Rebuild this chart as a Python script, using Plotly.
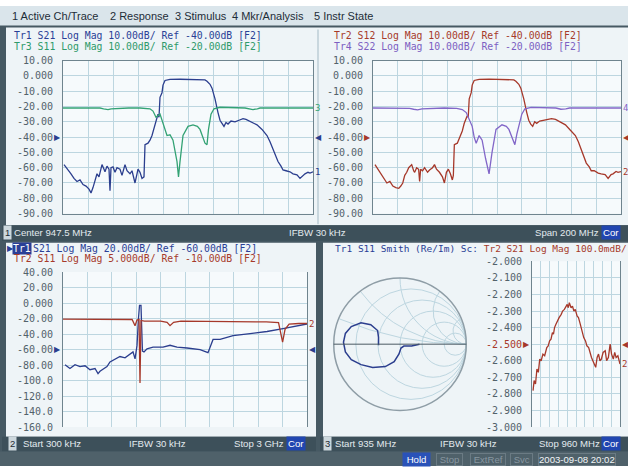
import numpy as np
import plotly.graph_objects as go

W, H = 628, 472
def X(px): return px / W
def Y(py): return 1 - py / H

# ---------------- data ----------------
# Channel 1 : Center 947.5 MHz, Span 200 MHz (MHz / dB)
ch1_start, ch1_stop = 847.5, 1047.5
ch1_tr1_freq = [848.3, 849.9, 851.5, 853.9, 856.3, 858.7, 861.1, 863.5, 865.9, 868.3, 869.9, 871.5, 873.1,
                874.7, 876.3, 878.7, 880.3, 881.1, 882.7, 884.3, 885.1, 885.9, 887.5, 889.1, 890.7, 893.1,
                894.7, 897.1, 898.7, 901.1, 902.7, 905.1, 906.7, 907.5, 909.1, 910.7, 912.3, 913.1, 915.5,
                917.1, 918.7, 921.1, 922.7, 923.5, 924.3, 925.1, 926.7, 927.5, 929.1, 933.1, 941.1, 949.1,
                957.1, 961.1, 962.7, 965.1, 966.7, 969.1, 971.5, 973.1, 974.7, 976.3, 977.9, 979.5, 981.9,
                985.1, 988.3, 991.5, 993.9, 996.3, 999.5, 1002.7, 1006.7, 1010.7, 1013.1, 1015.5, 1017.9,
                1019.5, 1021.9, 1023.5, 1025.9, 1029.1, 1031.5, 1034.7, 1037.1, 1039.5, 1041.1, 1043.5,
                1045.1, 1047.5]
ch1_tr1_s21 = [-58, -60, -61.5, -64, -67, -69, -68, -71, -72, -74, -76.5, -73, -68,
               -64, -66, -58, -61, -62.7, -59, -61, -75, -60, -59.5, -63, -60, -61,
               -65, -58, -62, -64, -62, -70, -64, -61, -63, -67, -66, -45, -44,
               -42, -39, -32, -28, -25, -27, -14, -11, -6, -3, -2.3, -2.2, -2.2,
               -2.4, -2.6, -3.5, -5.5, -8, -15, -24, -29, -31, -33, -30.5, -31.5, -29.5,
               -30, -29, -28, -28.5, -29.5, -30.5, -32, -35, -39, -43, -48, -53,
               -56, -59, -61.5, -62, -62.7, -64, -64.7, -67, -65, -64, -63,
               -63.5, -62.7]
ch1_tr3_freq = [847.5, 870, 877.1, 880, 883.5, 886, 889.1, 900, 909.1, 917.1, 919.5, 921.9, 925.1, 927.5,
                930.7, 933.1, 935.5, 938.7, 939.9, 941.1, 943.5, 947.5, 951.5, 955, 957.1, 961.1, 962.7,
                963.9, 965.9, 968.3, 973.1, 993.1, 997, 999.5, 1003, 1005.1, 1047.5]
ch1_tr3_s11 = [-1, -1, -1, -1.5, -2, -1.5, -1.3, -1, -1, -1.5, -3, -7, -5, -11,
               -19, -18.5, -22, -36, -46, -36, -19, -13, -12, -13, -15, -24, -25,
               -15, -5, -1.5, -0.5, -1, -1.8, -2, -1.5, -1, -1]
ch1_tr2_freq = [849.1, 851.5, 853.9, 856.3, 858.7, 861.1, 863.5, 865.9, 868.3, 869.9, 871.5, 873.1, 874.7,
                876.3, 878.7, 880.3, 881.1, 882.7, 884.3, 885.1, 885.9, 887.5, 889.1, 891.5, 893.1, 895.5,
                897.1, 898.7, 901.1, 903.5, 905.1, 906.7, 908.3, 909.9, 911.5, 912.3, 913.1, 915.5, 917.1,
                919.5, 921.1, 923.5, 924.3, 925.1, 926.7, 927.5, 929.1, 933.1, 941.1, 949.1, 957.1, 961.1,
                962.7, 965.1, 966.7, 969.1, 971.5, 973.1, 974.7, 976.3, 977.9, 979.5, 981.9, 985.1, 988.3,
                991.5, 994.7, 997.1, 999.5, 1002.7, 1006.7, 1010.7, 1013.1, 1015.5, 1017.9, 1019.5, 1021.9,
                1023.5, 1025.9, 1029.1, 1031.5, 1034.7, 1037.1, 1039.5, 1041.1, 1043.5, 1045.1, 1047.5]
ch1_tr2_s12 = [-58, -61, -64, -67, -70, -69, -72, -73, -73.5, -72, -70, -65, -63,
               -60, -58, -62, -63, -60, -61, -69, -61, -62, -60, -63, -61.5, -60,
               -58, -61, -63, -66, -70, -63, -61, -64, -68, -65, -45, -44, -41,
               -36, -31, -26, -27, -15, -11, -6, -3, -2.3, -2.1, -2.2, -2.4, -2.6,
               -3.5, -5.5, -8, -15, -24, -29, -31.5, -33, -30, -31, -29.5, -29, -28.5,
               -28, -28.5, -29.5, -31, -32, -35.5, -39, -43, -48, -53, -57, -59.5,
               -62, -62, -63.5, -64, -64.5, -67, -64.5, -64, -62.5, -63, -62.5]
ch1_tr4_freq = [847.5, 870, 877, 880.3, 883.5, 887, 893, 905, 915, 919.5, 922.7, 925.1, 927.5, 929.1,
                930.7, 933.1, 935.5, 938.3, 941.1, 943.5, 946.7, 951.5, 955, 957.1, 961.1, 961.9, 963.5,
                965.1, 967.5, 970, 975, 995, 999, 1003, 1006, 1047.5]
ch1_tr4_s22 = [-1, -1, -1.2, -1.8, -2.2, -1.5, -1.2, -1, -1.2, -2, -4, -8, -13, -20,
               -24, -19, -22, -34, -44, -30, -15, -12, -13, -15, -24, -25, -18,
               -13, -5, -1.5, -0.6, -1, -1.8, -1.5, -1, -1]
ch1_ticks = [10, 0, -10, -20, -30, -40, -50, -60, -70, -80, -90]
ch1_ticktext = ["10.00", "0.000", "-10.00", "-20.00", "-30.00", "-40.00", "-50.00", "-60.00",
                "-70.00", "-80.00", "-90.00"]

# Channel 2 : Start 300 kHz, Stop 3 GHz (GHz / dB)
ch2_start, ch2_stop = 0.0003, 3.0
ch2_tr1_freq = [0.025, 0.086, 0.148, 0.209, 0.271, 0.332, 0.394, 0.431, 0.455, 0.480, 0.541, 0.578,
                0.640, 0.701, 0.763, 0.824, 0.861, 0.886, 0.910, 0.928, 0.941, 0.959, 0.971, 0.977,
                0.996, 1.033, 1.107, 1.230, 1.316, 1.402, 1.525, 1.685, 1.783, 1.808, 1.845, 1.931,
                2.091, 2.300, 2.508, 2.705, 2.914, 3.000]
ch2_tr1_s21 = [-79.5, -84.5, -79.5, -82, -81, -86, -84.5, -91, -88, -86, -82, -76,
               -72, -69, -70.7, -66, -63, -72, -55, -20, -3, -3, -30, -62,
               -63, -59, -57, -57, -54.5, -57, -58, -60, -64, -57, -47, -46.8,
               -42, -39.5, -36.7, -33, -28.5, -27]
ch2_tr2_freq = [0.0003, 0.3, 0.6, 0.85, 0.886, 0.91, 0.935, 0.947, 0.959, 1.0, 1.2, 1.28, 1.316,
                1.36, 1.45, 2.0, 2.5, 2.65, 2.70, 2.73, 2.78, 2.9, 3.0]
ch2_tr2_s11 = [-0.2, -0.2, -0.2, -0.3, -2.3, -0.5, -0.3, -20.8, -0.6, -0.8, -0.8, -1.2, -2.3,
               -1.2, -0.8, -0.9, -1.1, -1.3, -7.6, -3.5, -1.8, -1.6, -1.6]
ch2_ticks = [40, 20, 0, -20, -40, -60, -80, -100, -120, -140, -160]
ch2_ticktext = ["40.00", "20.00", "0.000", "-20.00", "-40.00", "-60.00", "-80.00", "-100.0",
                "-120.0", "-140.0", "-160.0"]

# Channel 3 : Start 935 MHz, Stop 960 MHz
ch3_start, ch3_stop = 935.0, 960.0
ch3_tr1_gamma_re = [-0.324, -0.324, -0.338, -0.441, -0.588, -0.735, -0.824, -0.853, -0.824, -0.735,
                    -0.588, -0.412, -0.221, -0.088, -0.015, 0.015, 0.059, 0.176, 0.294]
ch3_tr1_gamma_im = [-0.015, 0.103, 0.206, 0.294, 0.324, 0.265, 0.162, 0.029, -0.118, -0.235,
                    -0.309, -0.353, -0.338, -0.265, -0.147, -0.059, -0.029, -0.029, 0.0]
ch3_tr2_freq = [935.3, 935.6, 936.0, 936.4, 936.8, 937.2, 937.6, 938.1, 938.6, 939.2, 939.6, 940.0,
                940.4, 940.8, 941.1, 941.4, 941.8, 942.2, 942.7, 943.3, 943.7, 944.2, 944.6, 945.0,
                945.3, 945.6, 946.1, 946.5, 946.9, 947.3, 947.8, 948.2, 948.6, 948.9, 949.3, 949.7,
                950.2, 950.6, 951.1, 951.5, 951.9, 952.5, 953.1, 953.5, 953.9, 954.3, 954.7, 955.2,
                955.8, 956.2, 956.7, 957.2, 957.6, 958.1, 958.5, 958.9, 959.4, 960.0]
ch3_tr2_s21 = [-2.78, -2.72, -2.74, -2.65, -2.67, -2.59, -2.60, -2.56, -2.57, -2.52, -2.51, -2.48,
               -2.47, -2.43, -2.44, -2.40, -2.38, -2.36, -2.34, -2.32, -2.30, -2.29, -2.27, -2.26,
               -2.28, -2.25, -2.28, -2.27, -2.30, -2.29, -2.33, -2.34, -2.37, -2.40, -2.43, -2.46,
               -2.48, -2.51, -2.52, -2.56, -2.58, -2.61, -2.64, -2.58, -2.56, -2.60, -2.59, -2.55,
               -2.54, -2.60, -2.58, -2.50, -2.56, -2.59, -2.55, -2.58, -2.57, -2.62]
ch3_ticks = [-2.0, -2.1, -2.2, -2.3, -2.4, -2.5, -2.6, -2.7, -2.8, -2.9, -3.0]
ch3_ticktext = ["-2.000", "-2.100", "-2.200", "-2.300", "-2.400",
                "<span style='color:#a8392a'>-2.500</span>", "-2.600", "-2.700", "-2.800",
                "-2.900", "-3.000"]

# scale settings (div, ref) -> ref at centre line, 10 divisions
def rng(div, ref):
    return [ref - 5 * div, ref + 5 * div]

# ---------------- styles ----------------
BLUE = "#2b3e8e"
GREEN = "#33a274"
RED = "#a6382a"
PURPLE = "#8266c8"
GRID = "#bdd6e0"
PLOTBG = "#f6fafc"
PANEL = "#eef4f7"
FRAME = "#6f848e"
LABEL = "#52626b"
DARK = "#3d505a"
MONO = "DejaVu Sans Mono"
SANS = "Liberation Sans"

fig = go.Figure()

def line(c, w=1.3):
    return dict(color=c, width=w)

fig.add_trace(go.Scatter(x=ch1_tr3_freq, y=ch1_tr3_s11, xaxis="x", yaxis="y5", mode="lines", line=line(GREEN)))
fig.add_trace(go.Scatter(x=ch1_tr1_freq, y=ch1_tr1_s21, xaxis="x", yaxis="y", mode="lines", line=line(BLUE)))
fig.add_trace(go.Scatter(x=ch1_tr4_freq, y=ch1_tr4_s22, xaxis="x2", yaxis="y6", mode="lines", line=line(PURPLE)))
fig.add_trace(go.Scatter(x=ch1_tr2_freq, y=ch1_tr2_s12, xaxis="x2", yaxis="y2", mode="lines", line=line(RED)))
fig.add_trace(go.Scatter(x=ch2_tr2_freq, y=ch2_tr2_s11, xaxis="x3", yaxis="y7", mode="lines", line=line(RED)))
fig.add_trace(go.Scatter(x=ch2_tr1_freq, y=ch2_tr1_s21, xaxis="x3", yaxis="y3", mode="lines", line=line(BLUE)))
fig.add_trace(go.Scatter(x=ch3_tr2_freq, y=ch3_tr2_s21, xaxis="x4", yaxis="y4", mode="lines", line=line(RED)))

g = np.array(ch3_tr1_gamma_re) + 1j * np.array(ch3_tr1_gamma_im)
z = (1 + g) / (1 - g)
fig.add_trace(go.Scattersmith(real=z.real, imag=z.imag, mode="lines", line=line(BLUE, 1.5), subplot="smith"))

def xax(px0, px1, start, stop):
    return dict(domain=[X(px0), X(px1)], range=[start, stop], tick0=start, dtick=(stop - start) / 10,
                showticklabels=False, showgrid=True, gridcolor=GRID, gridwidth=1, zeroline=False,
                showline=True, mirror=True, linecolor=FRAME, linewidth=1, ticks="", fixedrange=True)

def yax(py0, py1, r, tv, tt, anchor):
    return dict(domain=[Y(py1), Y(py0)], range=r, tickvals=tv, ticktext=tt, showgrid=True, gridcolor=GRID,
                zeroline=False, showline=True, mirror=True, linecolor=FRAME, linewidth=1, ticks="",
                ticklabelstandoff=7, anchor=anchor, fixedrange=True,
                tickfont=dict(family=MONO, size=10, color=LABEL))

def yov(over, r, anchor):
    return dict(overlaying=over, range=r, visible=False, anchor=anchor, fixedrange=True)

# plot geometry (pixels)
P1 = (63, 313, 56, 213)
P2 = (373, 621, 56, 213)
P3 = (63, 307, 273, 432)
P4 = (532, 620, 262, 432)

fig.update_layout(
    xaxis=xax(P1[0], P1[1], ch1_start, ch1_stop),
    yaxis=yax(P1[2], P1[3], rng(10, -40), ch1_ticks, ch1_ticktext, "x"),
    yaxis5=yov("y", rng(10, -20), "x"),
    xaxis2=xax(P2[0], P2[1], ch1_start, ch1_stop),
    yaxis2=yax(P2[2], P2[3], rng(10, -40), ch1_ticks, ch1_ticktext, "x2"),
    yaxis6=yov("y2", rng(10, -20), "x2"),
    xaxis3=xax(P3[0], P3[1], ch2_start, ch2_stop),
    yaxis3=yax(P3[2], P3[3], rng(20, -60), ch2_ticks, ch2_ticktext, "x3"),
    yaxis7=yov("y3", rng(5, -10), "x3"),
    xaxis4=xax(P4[0], P4[1], ch3_start, ch3_stop),
    yaxis4=yax(P4[2], P4[3], rng(0.1, -2.5), ch3_ticks, ch3_ticktext, "x4"),
    smith=dict(
        domain=dict(x=[X(332), X(468)], y=[Y(415), Y(279)]),
        bgcolor=PANEL,
        realaxis=dict(tickvals=[0.2, 0.5, 1, 2, 5], showgrid=True, gridcolor=GRID, showticklabels=False,
                      showline=True, linecolor="#4b5a63", linewidth=1, ticks=""),
        imaginaryaxis=dict(tickvals=[0.2, 0.5, 1, 2, 5], showgrid=True, gridcolor=GRID,
                           showticklabels=False, showline=True, linecolor="#8e9da6", linewidth=1.5,
                           ticks=""),
    ),
)

# ---------------- chrome (shapes) ----------------
shapes = []
def rect(x0, y0, x1, y1, fill, lc=None, lw=0):
    shapes.append(dict(type="rect", xref="paper", yref="paper", x0=X(x0), x1=X(x1), y0=Y(y1), y1=Y(y0),
                       fillcolor=fill, line=dict(width=lw, color=lc or fill), layer="below"))

rect(0, 0, 628, 472, "#465963")               # frame
rect(0, 0, 628, 20, "#dae5eb")                # menu bar
rect(6, 22, 628, 225, PANEL)                  # channel 1 window
rect(2, 225, 628, 241, DARK)                  # ch1 status
rect(317, 24, 319, 224, "#c9d7de")            # split between ch1 windows
rect(6, 243, 316, 442, PANEL)                 # channel 2 window
rect(2, 442, 316, 457, DARK)
rect(323, 243, 628, 442, PANEL)               # channel 3 window
rect(320, 442, 628, 457, DARK)
rect(0, 457, 628, 472, "#4f616a")             # bottom bar
for (a, b, c, d) in (P1, P2, P3, P4):
    rect(a, c, b, d, PLOTBG)
fig.update_layout(shapes=shapes)

# ---------------- texts ----------------
ann = []
def txt(x, y, s, color, size=10, family=MONO, anchor="left", **kw):
    d = dict(xref="paper", yref="paper", x=X(x), y=Y(y), text=s, showarrow=False, xanchor=anchor,
             yanchor="middle", font=dict(family=family, size=size, color=color))
    d.update(kw)
    ann.append(d)

# menu
for x, s in ((10, "1 Active Ch/Trace"), (108, "2 Response"), (173, "3 Stimulus"),
             (230, "4 Mkr/Analysis"), (312, "5 Instr State")):
    txt(x, 10, s, "#1e2d38", size=11, family=SANS)

# headers
HS = 9.8
txt(12, 30.5, "Tr1 S21 Log Mag 10.00dB/ Ref -40.00dB [F2]", "#2a3f96", size=HS)
txt(12, 41.5, "Tr3 S11 Log Mag 10.00dB/ Ref -20.00dB [F2]", "#2e9a6a", size=HS)
txt(332, 30.5, "Tr2 S12 Log Mag 10.00dB/ Ref -40.00dB [F2]", "#a63a2a", size=HS)
txt(332, 41.5, "Tr4 S22 Log Mag 10.00dB/ Ref -20.00dB [F2]", "#7c5fc2", size=HS)
txt(5, 248.5, "▶", "#2a3f96", size=8, family="DejaVu Sans")
txt(12, 248.5, "Tr1", "#ffffff", size=HS, bgcolor="#2a3f96", borderpad=0)
txt(31, 248.5, "S21 Log Mag 20.00dB/ Ref -60.00dB [F2]", "#2a3f96", size=HS)
txt(12, 259.5, "Tr2 S11 Log Mag 5.000dB/ Ref -10.00dB [F2]", "#a63a2a", size=HS)
txt(333, 249, "Tr1 S11 Smith (Re/Im) Sc: <span style='color:#a63a2a'>Tr2 S21 Log Mag 100.0mdB/</span>",
    "#2a3f96", size=9.5)

# status bars
SS = 9.6
def status(num_x, num, items, y, cor_x):
    txt(num_x, y, num, "#1f2c33", size=9.5, family=SANS, bgcolor="#cdd8dd", borderpad=1)
    for x, s in items:
        txt(x, y, s, "#e3eaee", size=SS, family=SANS)
    txt(cor_x, y, "Cor", "#ffffff", size=SS, family=SANS, bgcolor="#2146b0", borderpad=1)

status(3, "1", ((12, "Center 947.5 MHz"), (287, "IFBW 30 kHz"), (533, "Span 200 MHz")), 232, 601)
status(8, "2", ((21, "Start 300 kHz"), (127, "IFBW 30 kHz"), (232, "Stop 3 GHz")), 449, 286)
status(323, "3", ((333, "Start 935 MHz"), (438, "IFBW 30 kHz"), (537, "Stop 960 MHz")), 449, 601)

# bottom bar
txt(402, 465, " Hold ", "#ffffff", size=SS, family=SANS, bgcolor="#2a52b8", borderpad=1)
for x, s in ((436, " Stop "), (470, " ExtRef "), (510, " Svc ")):
    txt(x, 465, s, "#8796a0", size=SS, family=SANS, bordercolor="#6b7b84", borderwidth=1, borderpad=0)
txt(538, 465, "2003-09-08 20:02", "#f2f5f7", size=SS, family=SANS, bordercolor="#6b7b84",
    borderwidth=1, borderpad=0)

# reference markers and trace numbers
def refmark(xpx, yref, val, color, left):
    ann.append(dict(xref="paper", yref=yref, x=X(xpx), y=val, text="▶" if left else "◀", showarrow=False,
                    xanchor="right" if left else "left", yanchor="middle",
                    font=dict(family="DejaVu Sans", size=8, color=color)))

refmark(P1[0], "y", -40, BLUE, True); refmark(P1[1], "y", -40, BLUE, False)
refmark(P2[0], "y2", -40, RED, True); refmark(P2[1], "y2", -40, RED, False)
refmark(P3[0], "y3", -60, BLUE, True); refmark(P3[1], "y3", -60, BLUE, False)
refmark(P4[0], "y4", -2.5, RED, True); refmark(P4[1], "y4", -2.5, RED, False)

def endlabel(xref, yref, xs, ys, s, color):
    ann.append(dict(xref=xref, yref=yref, x=xs[-1], y=ys[-1], text=s, showarrow=False, xanchor="left",
                    yanchor="middle", xshift=0, font=dict(family=MONO, size=9, color=color)))

endlabel("x", "y", ch1_tr1_freq, ch1_tr1_s21, "1", BLUE)
endlabel("x", "y5", ch1_tr3_freq, ch1_tr3_s11, "3", GREEN)
endlabel("x2", "y2", ch1_tr2_freq, ch1_tr2_s12, "2", RED)
endlabel("x2", "y6", ch1_tr4_freq, ch1_tr4_s22, "4", PURPLE)
endlabel("x3", "y7", ch2_tr2_freq, ch2_tr2_s11, "2", RED)
endlabel("x4", "y4", ch3_tr2_freq, ch3_tr2_s21, "2", RED)

fig.update_layout(annotations=ann, width=W, height=H, margin=dict(l=0, r=0, t=0, b=0),
                  paper_bgcolor="#ffffff", plot_bgcolor="rgba(0,0,0,0)", showlegend=False)

fig.write_html("out.html", config={"displayModeBar": False},
               post_script="document.body.style.margin='0';document.body.style.overflow='hidden';")
